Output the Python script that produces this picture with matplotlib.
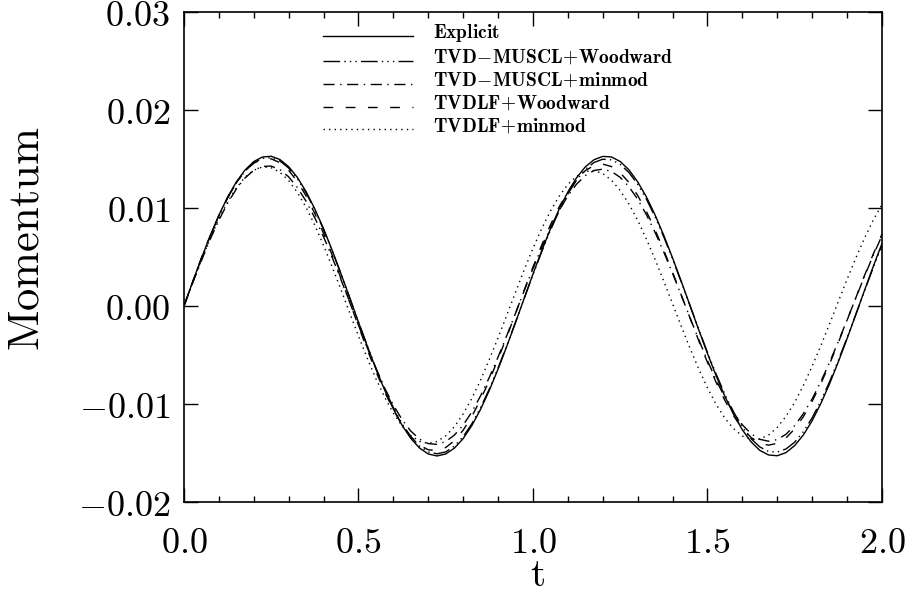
import numpy as np
import matplotlib
matplotlib.use('Agg')
import matplotlib.pyplot as plt
from matplotlib.ticker import MultipleLocator, FuncFormatter
from matplotlib.legend_handler import HandlerLine2D

plt.rcParams['mathtext.fontset'] = 'cm'

# time grid
t = np.arange(81) * 0.025

# momentum, in units of 1e-4
explicit = [0, 24.7, 48.8, 71.6, 92.6, 111.1, 126.6, 138.8, 147.4, 152.1,
            152.8, 149.5, 142.2, 131.2, 116.7, 99.0, 78.9, 56.6, 32.9, 8.4,
            -16.4, -40.7, -64.1, -85.7, -105.1, -121.7, -135.1, -144.9, -151.0, -153.0,
            -151.0, -145.0, -135.3, -121.9, -105.4, -86.0, -64.4, -41.1, -16.9, 8.0,
            32.6, 56.3, 78.6, 98.8, 116.4, 130.9, 142.0, 149.3, 152.7, 152.1,
            147.5, 139.0, 126.8, 111.4, 92.9, 72.0, 49.1, 25.2, 0.5, -24.3,
            -48.4, -71.2, -92.2, -110.7, -126.3, -138.6, -147.3, -152.0, -152.8, -149.6,
            -142.4, -131.5, -117.1, -99.4, -79.3, -57.0, -33.4, -8.9, 15.9, 40.3,
            63.6]

muscl_woodward = [0, 24.6, 48.5, 71.1, 91.9, 110.2, 125.6, 137.7, 146.1, 150.7,
                  151.4, 148.0, 140.8, 129.9, 115.5, 98.0, 78.0, 55.9, 32.6, 8.3,
                  -16.2, -40.3, -63.3, -84.6, -103.7, -120.1, -133.3, -142.9, -148.9, -150.8,
                  -148.9, -142.9, -133.3, -120.1, -103.7, -84.7, -63.4, -40.4, -16.6, 7.8,
                  32.0, 55.3, 77.2, 97.0, 114.3, 128.5, 139.4, 146.5, 149.8, 149.2,
                  144.6, 136.3, 124.3, 109.1, 91.0, 70.5, 48.1, 24.6, 0.5, -23.7,
                  -47.3, -69.6, -90.1, -108.2, -123.4, -135.4, -143.8, -148.4, -149.1, -145.9,
                  -138.9, -128.2, -114.1, -96.9, -77.2, -55.5, -32.5, -8.7, 15.4, 39.2,
                  61.9]

muscl_minmod = [0, 23.5, 46.3, 67.9, 87.6, 104.9, 119.4, 130.7, 138.5, 142.5,
                142.8, 139.2, 131.8, 120.9, 106.9, 89.9, 70.6, 49.4, 26.9, 3.7,
                -19.5, -42.2, -63.8, -83.6, -101.1, -115.9, -127.6, -135.8, -140.4, -141.2,
                -138.3, -131.7, -121.5, -108.0, -91.6, -72.8, -52.1, -30.2, -7.4, 15.7,
                38.2, 59.7, 79.6, 97.3, 112.4, 124.4, 133.1, 138.3, 139.7, 137.3,
                131.3, 121.8, 109.0, 93.3, 75.1, 55.0, 33.4, 10.9, -11.9, -34.2,
                -55.7, -75.6, -93.5, -108.8, -121.2, -130.3, -136.0, -138.0, -136.3, -130.9,
                -122.0, -109.8, -94.8, -77.1, -57.5, -36.3, -14.3, 8.1, 30.3, 51.7,
                71.7]

tvdlf_woodward = [0, 24.8, 48.9, 71.6, 92.3, 110.6, 125.8, 137.6, 145.8, 150.0,
                  150.2, 146.3, 138.5, 127.0, 112.3, 94.4, 74.1, 51.8, 28.2, 3.9,
                  -20.5, -44.2, -66.8, -87.5, -105.8, -121.2, -133.4, -142.0, -146.7, -147.5,
                  -144.4, -137.4, -126.7, -112.6, -95.4, -75.9, -54.2, -31.4, -7.7, 16.3,
                  39.7, 62.1, 82.7, 101.1, 116.7, 129.1, 138.1, 143.4, 144.8, 142.3,
                  136.0, 126.1, 112.9, 96.6, 77.7, 56.8, 34.5, 11.2, -12.2, -35.3,
                  -57.5, -78.0, -96.4, -112.1, -124.9, -134.2, -140.0, -142.0, -140.1, -134.6,
                  -125.4, -112.8, -97.3, -79.2, -59.0, -37.3, -14.7, 8.3, 31.1, 52.9,
                  73.3]

tvdlf_minmod = [0, 23.9, 47.1, 68.9, 88.8, 106.1, 120.5, 131.4, 138.6, 141.9,
                141.1, 136.5, 128.0, 115.9, 100.6, 82.4, 61.9, 39.6, 16.6, -7.1,
                -30.6, -53.1, -74.1, -93.0, -109.3, -122.5, -132.1, -138.1, -140.2, -138.3,
                -132.5, -123.1, -110.1, -94.2, -75.6, -54.5, -32.4, -9.4, 14.0, 36.9,
                58.8, 79.0, 96.9, 112.0, 124.1, 132.5, 137.3, 138.2, 135.2, 128.4,
                117.9, 104.2, 87.6, 68.4, 47.5, 25.2, 2.3, -20.7, -43.1, -64.2,
                -83.5, -100.4, -114.5, -125.2, -132.6, -136.1, -135.8, -131.7, -123.9, -112.6,
                -98.2, -81.0, -61.5, -40.4, -18.2, 4.6, 27.1, 48.9, 69.2, 87.6,
                103.5]

labels = [r'$\mathbf{Explicit}$',
          r'$\mathbf{TVD}\!-\!\mathbf{MUSCL}\!+\!\mathbf{Woodward}$',
          r'$\mathbf{TVD}\!-\!\mathbf{MUSCL}\!+\!\mathbf{minmod}$',
          r'$\mathbf{TVDLF}\!+\!\mathbf{Woodward}$',
          r'$\mathbf{TVDLF}\!+\!\mathbf{minmod}$']
series = [explicit, muscl_woodward, muscl_minmod, tvdlf_woodward, tvdlf_minmod]
styles = ['-', (0, (12, 3, 1, 3, 1, 3, 1, 3)), (0, (8, 4, 1, 4)), (0, (7, 9)), (0, (1, 3))]


class BaselineLine(HandlerLine2D):
    # legend sample sits on the text baseline, like in IDL
    def create_artists(self, *args, **kwargs):
        arts = super().create_artists(*args, **kwargs)
        for a in arts:
            a.set_ydata(np.asarray(a.get_ydata()) - 3.5)
        return arts


fig = plt.figure(figsize=(9.08, 5.96), dpi=100)
ax = fig.add_axes([0.2026, 0.1577, 0.7687, 0.8221])

lines = []
for vals, lab, ls in zip(series, labels, styles):
    ln, = ax.plot(t, np.array(vals) * 1e-4, color='black', lw=1.0, linestyle=ls, label=lab)
    lines.append(ln)

ax.set_xlim(0, 2)
ax.set_ylim(-0.02, 0.03)
ax.xaxis.set_major_locator(MultipleLocator(0.5))
ax.xaxis.set_minor_locator(MultipleLocator(0.1))
ax.yaxis.set_major_locator(MultipleLocator(0.01))
ax.xaxis.set_major_formatter(FuncFormatter(lambda v, p: '$%.1f$' % v))
ax.yaxis.set_major_formatter(FuncFormatter(lambda v, p: '$%.2f$' % v))
ax.tick_params(which='both', direction='in', top=True, right=True, width=1.0)
ax.tick_params(which='major', length=10)
ax.tick_params(which='minor', length=4.5)
ax.tick_params(axis='x', which='major', labelsize=26, pad=17)
ax.tick_params(axis='y', which='major', labelsize=26, pad=10)
for s in ax.spines.values():
    s.set_linewidth(1.2)

ax.set_xlabel(r'$\mathrm{t}$', fontsize=28)
ax.set_ylabel(r'$\mathrm{Momentum}$', fontsize=32)
ax.xaxis.set_label_coords(0.507, -0.111)
ax.yaxis.set_label_coords(-0.195, 0.537)

ax.legend(handles=lines, loc='upper left', bbox_to_anchor=(0.199, 0.98), frameon=False,
          borderpad=0, borderaxespad=0, handlelength=4.64, handletextpad=1.03,
          labelspacing=0.2, prop={'size': 14},
          handler_map={ln: BaselineLine() for ln in lines})

fig.savefig('out.png', dpi=100)
